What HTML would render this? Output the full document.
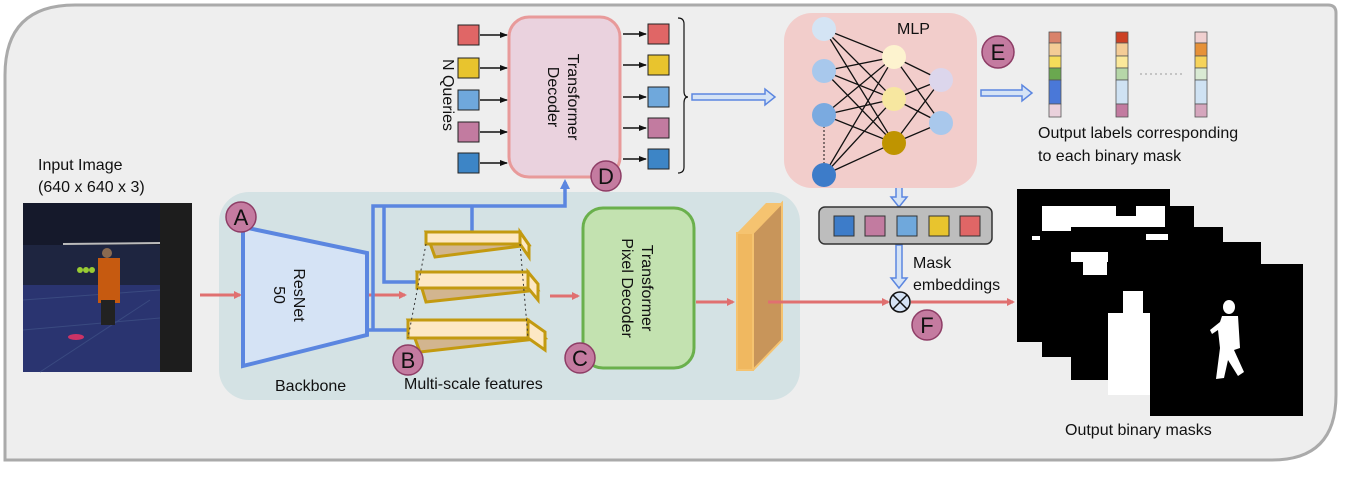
<!DOCTYPE html>
<html><head><meta charset="utf-8"><style>
html,body{margin:0;padding:0;background:#fff;}
svg{display:block;font-family:"Liberation Sans",sans-serif;}
</style></head><body>
<svg width="1346" height="479" viewBox="0 0 1346 479" xmlns="http://www.w3.org/2000/svg">
<defs>
<marker id="rh" markerWidth="8" markerHeight="8" refX="6" refY="4" orient="auto" markerUnits="userSpaceOnUse"><path d="M0,0 L8,4 L0,8 z" fill="#e07070"/></marker>
<marker id="bh" markerWidth="10" markerHeight="10" refX="7" refY="5" orient="auto" markerUnits="userSpaceOnUse"><path d="M0,0 L10,5 L0,10 z" fill="#5b86e0"/></marker>
<marker id="kh" markerWidth="8" markerHeight="8" refX="7" refY="4" orient="auto" markerUnits="userSpaceOnUse"><path d="M0,1 L8,4 L0,7 z" fill="#111"/></marker>
</defs>
<!-- frame -->
<path d="M75,5 H1328 Q1336,5 1336,13 V395 Q1336,460 1272,460 H5 V75 Q5,5 75,5 Z" fill="#eeeeee" stroke="#aaaaaa" stroke-width="3"/>
<!-- input image -->
<text x="38" y="170" font-size="16" fill="#111">Input Image</text>
<text x="38" y="192" font-size="16" fill="#111">(640 x 640 x 3)</text>
<rect x="23" y="203" width="169" height="169" fill="#2a3470"/>
<rect x="23" y="203" width="169" height="45" fill="#15192b"/>
<rect x="23" y="245" width="140" height="40" fill="#1e2540"/>
<g stroke="#3a4a80" stroke-width="1"><line x1="23" y1="300" x2="160" y2="290"/><line x1="23" y1="330" x2="160" y2="318"/><line x1="40" y1="372" x2="150" y2="300"/></g>
<line x1="63" y1="244" x2="160" y2="243" stroke="#bbb" stroke-width="2"/>
<rect x="160" y="203" width="32" height="169" fill="#1d1d1d"/>
<rect x="98" y="258" width="22" height="45" fill="#c65a10"/>
<circle cx="107" cy="253" r="5" fill="#8a6a50"/>
<rect x="101" y="300" width="14" height="25" fill="#222"/>
<circle cx="80" cy="270" r="3" fill="#9c3"/><circle cx="86" cy="270" r="3" fill="#9c3"/><circle cx="92" cy="270" r="3" fill="#9c3"/>
<ellipse cx="76" cy="337" rx="8" ry="3" fill="#c36"/>
<!-- backbone panel -->
<rect x="219" y="192" width="581" height="208" rx="30" fill="#d4e2e4"/>
<line x1="200" y1="295" x2="240" y2="295" stroke="#e07070" stroke-width="3" marker-end="url(#rh)"/>
<polygon points="243,227 367,253 367,335 243,366" fill="#d5e3f5" stroke="#5b86e0" stroke-width="4"/>
<text transform="translate(290,295) rotate(90)" text-anchor="middle" font-size="16" fill="#111"><tspan x="0" dy="-4">ResNet</tspan><tspan x="0" dy="20">50</tspan></text>
<line x1="369" y1="295" x2="405" y2="295" stroke="#e07070" stroke-width="3" marker-end="url(#rh)"/>
<!-- blue connectors -->
<path d="M367,330 H410 M373,330 V206 H565 V182" fill="none" stroke="#5b86e0" stroke-width="3.5" marker-end="url(#bh)"/>
<path d="M384,206 V282 H418" fill="none" stroke="#5b86e0" stroke-width="3.5"/>
<line x1="472" y1="232" x2="472" y2="206" stroke="#5b86e0" stroke-width="3.5"/>
<!-- slabs -->
<g stroke="#c39a10" stroke-width="3">
<polygon points="426,232 520,232 529,245 435,257" fill="#d2b58f"/>
<rect x="426" y="232" width="94" height="12" fill="#fde8c4"/>
<polygon points="520,232 529,245 529,257 520,244" fill="#fde8c4"/>
<polygon points="417,272 528,272 538,290 426,302 " fill="#d2b58f"/>
<rect x="417" y="272" width="111" height="16" fill="#fde8c4"/>
<polygon points="528,272 538,284 538,300 528,288" fill="#fde8c4"/>
<polygon points="408,320 528,320 545,338 420,352" fill="#d2b58f"/>
<rect x="408" y="320" width="120" height="18" fill="#fde8c4"/>
<polygon points="528,320 545,332 545,350 528,338" fill="#fde8c4"/>
</g>
<g stroke="#333" stroke-width="1" stroke-dasharray="2,3"><line x1="426" y1="244" x2="408" y2="338"/><line x1="520" y1="244" x2="528" y2="338"/></g>
<line x1="550" y1="296" x2="578" y2="296" stroke="#e07070" stroke-width="3" marker-end="url(#rh)"/>
<!-- pixel decoder -->
<rect x="583" y="208" width="111" height="160" rx="20" fill="#c3e2b0" stroke="#6ab04c" stroke-width="3"/>
<text transform="translate(638,288) rotate(90)" text-anchor="middle" font-size="16" fill="#111"><tspan x="0" dy="-4">Transformer</tspan><tspan x="0" dy="20">Pixel Decoder</tspan></text>
<text x="275" y="391" font-size="16" fill="#111">Backbone</text>
<text x="404" y="389" font-size="16" fill="#111">Multi-scale features</text>
<!-- transformer decoder -->
<rect x="509" y="17" width="111" height="160" rx="20" fill="#ead2de" stroke="#e89a9a" stroke-width="3"/>
<text transform="translate(564,97) rotate(90)" text-anchor="middle" font-size="16" fill="#111"><tspan x="0" dy="-4">Transformer</tspan><tspan x="0" dy="20">Decoder</tspan></text>
<text transform="translate(443,95) rotate(90)" text-anchor="middle" font-size="16" fill="#111">N Queries</text>
<g stroke="#222" stroke-width="1">
<rect x="458" y="25" width="21" height="20" fill="#e06666"/>
<rect x="458" y="58" width="21" height="20" fill="#e8c42e"/>
<rect x="458" y="90" width="21" height="20" fill="#6fa8dc"/>
<rect x="458" y="122" width="21" height="20" fill="#c27ba0"/>
<rect x="458" y="153" width="21" height="20" fill="#3d85c6"/>
<rect x="648" y="24" width="21" height="20" fill="#e06666"/>
<rect x="648" y="55" width="21" height="20" fill="#e8c42e"/>
<rect x="648" y="87" width="21" height="20" fill="#6fa8dc"/>
<rect x="648" y="118" width="21" height="20" fill="#c27ba0"/>
<rect x="648" y="149" width="21" height="20" fill="#3d85c6"/>
</g>
<g stroke="#111" stroke-width="1.5" marker-end="url(#kh)">
<line x1="480" y1="35" x2="507" y2="35"/><line x1="480" y1="68" x2="507" y2="68"/><line x1="480" y1="100" x2="507" y2="100"/><line x1="480" y1="132" x2="507" y2="132"/><line x1="480" y1="163" x2="507" y2="163"/>
<line x1="623" y1="34" x2="646" y2="34"/><line x1="623" y1="65" x2="646" y2="65"/><line x1="623" y1="97" x2="646" y2="97"/><line x1="623" y1="128" x2="646" y2="128"/><line x1="623" y1="159" x2="646" y2="159"/>
</g>
<path d="M678,18 Q684,18 684,24 V91 Q684,97 688,97 Q684,97 684,103 V167 Q684,173 678,173" fill="none" stroke="#111" stroke-width="1.2"/>
<!-- hollow arrows -->
<g fill="#d5e3f5" stroke="#5b86e0" stroke-width="1.5">
<polygon points="692,94 765,94 765,89 775,97 765,105 765,100 692,100"/>
<polygon points="981,90 1022,90 1022,85 1032,93 1022,101 1022,96 981,96"/>
<polygon points="896,163 902,163 902,197 907,197 899,207 891,197 896,197"/>
<polygon points="896,245 902,245 902,278 907,278 899,288 891,278 896,278"/>
</g>
<!-- MLP -->
<rect x="784" y="13" width="193" height="175" rx="28" fill="#f2cdcb"/>
<text x="897" y="34" font-size="16" fill="#111">MLP</text>
<g stroke="#111" stroke-width="1.3">
<path d="M824,29 L894,57 M824,29 L894,99 M824,29 L894,143 M824,71 L894,57 M824,71 L894,99 M824,71 L894,143 M824,115 L894,57 M824,115 L894,99 M824,115 L894,143 M824,175 L894,57 M824,175 L894,99 M824,175 L894,143 M894,57 L941,80 M894,57 L941,123 M894,99 L941,80 M894,99 L941,123 M894,143 L941,80 M894,143 L941,123"/>
</g>
<line x1="824" y1="118" x2="824" y2="172" stroke="#111" stroke-width="1" stroke-dasharray="2,2"/>
<g>
<circle cx="824" cy="29" r="12" fill="#d4e4f4"/><circle cx="824" cy="71" r="12" fill="#a8c8ec"/><circle cx="824" cy="115" r="12" fill="#7aaae0"/><circle cx="824" cy="175" r="12" fill="#3d7cc9"/>
<circle cx="894" cy="57" r="12" fill="#fdf3cf"/><circle cx="894" cy="99" r="12" fill="#f7e7a0"/><circle cx="894" cy="143" r="12" fill="#bf9400"/>
<circle cx="941" cy="80" r="12" fill="#dcd6ec"/><circle cx="941" cy="123" r="12" fill="#a9c8ec"/>
</g>
<!-- label columns -->
<g stroke="#555" stroke-width="0.8">
<rect x="1049" y="32" width="12" height="11" fill="#d9826a"/><rect x="1049" y="43" width="12" height="13" fill="#f4cc96"/><rect x="1049" y="56" width="12" height="12" fill="#f6dc5a"/><rect x="1049" y="68" width="12" height="12" fill="#6aa84f"/><rect x="1049" y="80" width="12" height="24" fill="#4a78d8"/><rect x="1049" y="104" width="12" height="13" fill="#ead1dc"/>
<rect x="1116" y="32" width="12" height="11" fill="#cc4125"/><rect x="1116" y="43" width="12" height="13" fill="#f4cc96"/><rect x="1116" y="56" width="12" height="12" fill="#fbe89a"/><rect x="1116" y="68" width="12" height="12" fill="#b6d7a8"/><rect x="1116" y="80" width="12" height="24" fill="#cfe2f3"/><rect x="1116" y="104" width="12" height="13" fill="#c27ba0"/>
<rect x="1195" y="32" width="12" height="11" fill="#f0d0d0"/><rect x="1195" y="43" width="12" height="13" fill="#e69138"/><rect x="1195" y="56" width="12" height="12" fill="#f6d35a"/><rect x="1195" y="68" width="12" height="12" fill="#d9ead3"/><rect x="1195" y="80" width="12" height="24" fill="#cfe2f3"/><rect x="1195" y="104" width="12" height="13" fill="#d5a6bd"/>
</g>
<line x1="1140" y1="74" x2="1182" y2="74" stroke="#999" stroke-width="1" stroke-dasharray="2,3"/>
<text x="1038" y="138" font-size="16" fill="#111">Output labels corresponding</text>
<text x="1038" y="161" font-size="16" fill="#111">to each binary mask</text>
<!-- mask embeddings -->
<rect x="819" y="207" width="173" height="37" rx="6" fill="#bdbdbd" stroke="#333" stroke-width="1.5"/>
<g stroke="#333" stroke-width="1">
<rect x="834" y="216" width="20" height="20" fill="#3d7cc9"/><rect x="865" y="216" width="20" height="20" fill="#c27ba0"/><rect x="897" y="216" width="20" height="20" fill="#6fa8dc"/><rect x="929" y="216" width="20" height="20" fill="#e8c42e"/><rect x="960" y="216" width="20" height="20" fill="#e06666"/>
</g>
<text x="913" y="268" font-size="16" fill="#111">Mask</text>
<text x="913" y="290" font-size="16" fill="#111">embeddings</text>
<!-- final feature slab -->
<line x1="696" y1="302" x2="733" y2="302" stroke="#e07070" stroke-width="3" marker-end="url(#rh)"/>
<polygon points="737,233 753,233 782,203 782,340 753,370 737,370" fill="#c8955a" stroke="#f5c370" stroke-width="2"/>
<rect x="737" y="233" width="16" height="137" fill="#f0b860" stroke="#f5c370" stroke-width="2"/>
<polygon points="737,233 766,203 782,203 753,233" fill="#f5c370"/>
<line x1="768" y1="302" x2="888" y2="302" stroke="#e07070" stroke-width="3" marker-end="url(#rh)"/>
<line x1="911" y1="302" x2="1013" y2="302" stroke="#e07070" stroke-width="3" marker-end="url(#rh)"/>
<circle cx="900" cy="302" r="10" fill="#d5e3f5" stroke="#111" stroke-width="1.5"/>
<path d="M893,295 L907,309 M907,295 L893,309" stroke="#111" stroke-width="1.5"/>
<!-- masks -->
<rect x="1017" y="189" width="153" height="153" fill="#000"/>
<rect x="1049" y="208" width="30" height="18" fill="#fff"/>
<rect x="1032" y="236" width="8" height="4" fill="#fff"/>
<rect x="1042" y="206" width="152" height="151" fill="#000"/>
<rect x="1042" y="206" width="123" height="25" fill="#fff"/>
<rect x="1116" y="206" width="20" height="10" fill="#000"/>
<rect x="1071" y="227" width="152" height="153" fill="#000"/>
<rect x="1146" y="234" width="22" height="6" fill="#fff"/>
<rect x="1071" y="252" width="37" height="10" fill="#fff"/>
<rect x="1083" y="258" width="24" height="17" fill="#fff"/>
<rect x="1108" y="242" width="153" height="153" fill="#000"/>
<rect x="1108" y="313" width="42" height="82" fill="#fff"/>
<rect x="1123" y="291" width="20" height="24" fill="#fff"/>
<rect x="1150" y="264" width="153" height="152" fill="#000"/>
<g fill="#fff">
<ellipse cx="1229" cy="307" rx="6" ry="7"/>
<path d="M1222,316 L1238,316 L1240,348 L1234,350 L1244,372 L1238,376 L1228,360 L1224,378 L1216,379 L1220,348 L1218,330 L1212,334 L1210,330 L1220,322 Z"/>
</g>
<text x="1065" y="435" font-size="16" fill="#111">Output binary masks</text>
<!-- letter circles -->
<g stroke="#8e3d66" stroke-width="1.5" fill="#c47ba0">
<circle cx="241" cy="217" r="15"/><circle cx="408" cy="360" r="15"/><circle cx="580" cy="358" r="15"/><circle cx="606" cy="176" r="15"/><circle cx="998" cy="52" r="16"/><circle cx="927" cy="325" r="15"/>
</g>
<g font-size="22" fill="#111" text-anchor="middle">
<text x="241" y="225">A</text><text x="408" y="368">B</text><text x="580" y="366">C</text><text x="606" y="184">D</text><text x="998" y="60">E</text><text x="927" y="333">F</text>
</g>
</svg>
</body></html>
